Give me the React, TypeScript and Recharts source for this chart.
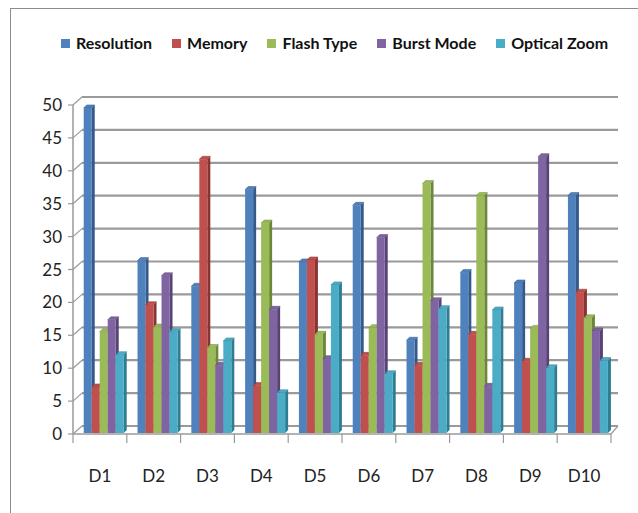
import React from "react";
import { BarChart, Bar, CartesianGrid, XAxis, YAxis, Legend } from "recharts";

const categories = ["D1", "D2", "D3", "D4", "D5", "D6", "D7", "D8", "D9", "D10"];
const resolution = [49.4, 26.2, 22.3, 37.0, 26.0, 34.6, 14.1, 24.4, 22.8, 36.1];
const memory = [7.0, 19.5, 41.6, 7.2, 26.3, 11.8, 10.3, 15.0, 10.9, 21.4];
const flashType = [15.4, 16.1, 13.0, 31.9, 15.0, 16.0, 37.9, 36.1, 15.9, 17.5];
const burstMode = [17.2, 23.9, 10.3, 18.8, 11.3, 29.7, 20.1, 7.1, 42.0, 15.5];
const opticalZoom = [11.9, 15.4, 14.0, 6.1, 22.5, 9.0, 18.9, 18.7, 9.9, 11.0];
const yTicks = [0, 5, 10, 15, 20, 25, 30, 35, 40, 45, 50];

const series = [
  { key: "Resolution", values: resolution, color: "#4F81BD", side: "#34598A" },
  { key: "Memory", values: memory, color: "#C0504D", side: "#8A3432" },
  { key: "Flash Type", values: flashType, color: "#9BBB59", side: "#6D873A" },
  { key: "Burst Mode", values: burstMode, color: "#8064A2", side: "#574374" },
  { key: "Optical Zoom", values: opticalZoom, color: "#4BACC6", side: "#2F7D92" },
];

const data = categories.map((c, i) => {
  const row: any = { name: c };
  series.forEach((s) => (row[s.key] = s.values[i]));
  return row;
});

const FONT = "Lato, Roboto, sans-serif";
const GRID = "#9a9a9a";

function Bar3D(props: any) {
  const { x, y, width, height, fill, side } = props;
  if (height == null || height <= 0) return null;
  const dx = 4;
  const dy = -1;
  const d = 3;
  const X = x + dx;
  const Y = y + dy;
  const B = y + height + dy;
  const W = width;
  return (
    <g>
      <path d={`M${X + W},${Y} L${X + W + d},${Y - d} L${X + W + d},${B - d} L${X + W},${B} Z`} fill={side} />
      <path d={`M${X},${Y} L${X + d},${Y - d} L${X + W + d},${Y - d} L${X + W},${Y} Z`} fill={fill} stroke={side} strokeWidth={0.5} />
      <rect x={X} y={Y} width={W} height={B - Y} fill={fill} />
    </g>
  );
}

function gridLine(p: any) {
  const { x1, y1, x2, index } = p;
  const bx = 9;
  const by = 8;
  return (
    <g key={`grid-${index}-${y1}`}>
      <line x1={x1} y1={y1} x2={x1 + bx} y2={y1 - by} stroke={GRID} strokeWidth={1.2} />
      <line x1={x1 + bx} y1={y1 - by} x2={x2 + 7} y2={y1 - by} stroke={GRID} strokeWidth={2.2} />
      {index === 0 && <line x1={x2} y1={y1} x2={x2 + 7} y2={y1 - by} stroke={GRID} strokeWidth={1.2} />}
    </g>
  );
}

function XTick(props: any) {
  const { x, y, payload, index, visibleTicksCount, width } = props;
  let half = payload && payload.offset > 0 ? payload.offset : 0;
  if (!half && width && visibleTicksCount) half = width / visibleTicksCount / 2;
  return (
    <g>
      <line x1={x - half} y1={y} x2={x - half} y2={y + 9} stroke={GRID} strokeWidth={1.2} />
      {index === visibleTicksCount - 1 && (
        <line x1={x + half} y1={y} x2={x + half} y2={y + 9} stroke={GRID} strokeWidth={1.2} />
      )}
      <text x={x} y={y + 41} textAnchor="middle" dominantBaseline="central" fontSize={17} fontFamily={FONT} fill="#222">
        {payload.value}
      </text>
    </g>
  );
}

function renderLegend() {
  return (
    <div style={{ display: "flex", alignItems: "center", fontFamily: FONT, fontSize: 16, fontWeight: "bold", color: "#111", lineHeight: "20px", whiteSpace: "nowrap" }}>
      {series.map((s) => (
        <div key={s.key} style={{ display: "flex", alignItems: "center", marginRight: 20 }}>
          <span style={{ display: "inline-block", width: 9, height: 9, background: s.color, marginRight: 6 }} />
          <span>{s.key}</span>
        </div>
      ))}
    </div>
  );
}

export default function App() {
  return (
    <div style={{ position: "relative", width: 638, height: 513, overflow: "hidden", background: "#fff" }}>
      <style>{"body{margin:0}"}</style>
      <div style={{ position: "absolute", left: 10, top: 8, width: 700, height: 600, border: "1px solid #8c8c8c" }} />
      <div style={{ position: "absolute", left: 0, top: 0 }}>
        <BarChart
          width={638}
          height={513}
          data={data}
          margin={{ top: 105, right: 27, left: 0, bottom: 0 }}
          barCategoryGap="12.5%"
          barGap={0}
        >
          <CartesianGrid vertical={false} horizontal={gridLine as any} />
          <XAxis
            dataKey="name"
            height={79}
            axisLine={{ stroke: GRID, strokeWidth: 1.5 }}
            tickLine={false}
            tickSize={0}
            tickMargin={0}
            tick={<XTick />}
            interval={0}
          />
          <YAxis
            width={73}
            domain={[0, 50]}
            ticks={yTicks}
            interval={0}
            axisLine={{ stroke: GRID, strokeWidth: 1.5 }}
            tickLine={{ stroke: GRID, strokeWidth: 1.2 }}
            tickSize={5}
            tickMargin={6}
            tick={{ fontSize: 17, fontFamily: FONT, fill: "#222" }}
          />
          <Legend
            layout="vertical"
            align="center"
            verticalAlign="middle"
            content={renderLegend}
            wrapperStyle={{ top: 33, left: 61, width: 600, height: 20 }}
          />
          {series.map((s) => (
            <Bar
              key={s.key}
              dataKey={s.key}
              fill={s.color}
              isAnimationActive={false}
              shape={(p: any) => <Bar3D {...p} side={s.side} />}
            />
          ))}
        </BarChart>
      </div>
    </div>
  );
}
